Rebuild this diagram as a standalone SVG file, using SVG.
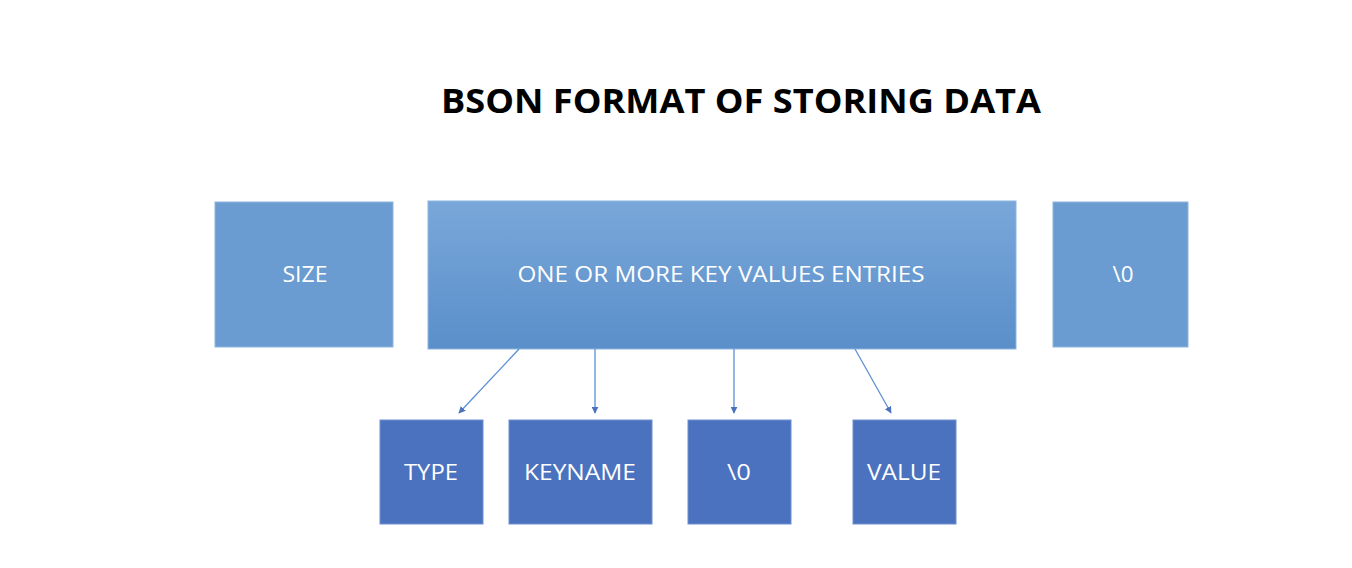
<svg xmlns="http://www.w3.org/2000/svg" width="1352" height="568" viewBox="0 0 1352 568">
  <style>
    .lbl { font-family: "Open Sans", "Liberation Sans", sans-serif; font-size: 22px; fill: #ffffff; text-anchor: middle; }
    .top { fill: #6a9bd1; stroke: #8db5e0; stroke-width: 1; }
    .sub { fill: #4a72be; stroke: #6f8fcf; stroke-width: 1; }
    .conn { stroke: #5b8fd3; stroke-width: 1.3; fill: none; marker-end: url(#ah); }
    .title { font-family: "Open Sans", "Liberation Sans", sans-serif; font-weight: bold; font-size: 34px; fill: #000; text-anchor: middle; }
  </style>
  <defs>
    <linearGradient id="g" x1="0" y1="0" x2="0" y2="1">
      <stop offset="0" stop-color="#79a7da"/>
      <stop offset="1" stop-color="#5a8fc9"/>
    </linearGradient>
    <marker id="ah" viewBox="0 0 10 10" refX="9" refY="5" markerWidth="7" markerHeight="7" markerUnits="userSpaceOnUse" orient="auto">
      <path d="M0,0 L10,5 L0,10 z" fill="#4a72be"/>
    </marker>
  </defs>
  <rect width="1352" height="568" fill="#ffffff"/>
  <text class="title" x="741" y="113" textLength="600" lengthAdjust="spacingAndGlyphs">BSON FORMAT OF STORING DATA</text>

  <g id="size">
    <rect class="top" x="215" y="202" width="178" height="145"/>
    <text class="lbl" x="305" y="282" textLength="45" lengthAdjust="spacingAndGlyphs">SIZE</text>
  </g>
  <g id="entries">
    <rect x="428" y="201" width="588" height="148" fill="url(#g)" stroke="#8db5e0" stroke-width="1"/>
    <text class="lbl" x="721" y="282" textLength="407" lengthAdjust="spacingAndGlyphs">ONE OR MORE KEY VALUES ENTRIES</text>
  </g>
  <g id="terminator">
    <rect class="top" x="1053" y="202" width="135" height="145"/>
    <text class="lbl" x="1123" y="282" textLength="21" lengthAdjust="spacingAndGlyphs">\0</text>
  </g>
  <g id="type">
    <rect class="sub" x="380" y="420" width="103" height="104"/>
    <text class="lbl" x="431" y="480" textLength="54" lengthAdjust="spacingAndGlyphs">TYPE</text>
  </g>
  <g id="keyname">
    <rect class="sub" x="509" y="420" width="143" height="104"/>
    <text class="lbl" x="580" y="480" textLength="112" lengthAdjust="spacingAndGlyphs">KEYNAME</text>
  </g>
  <g id="null">
    <rect class="sub" x="688" y="420" width="103" height="104"/>
    <text class="lbl" x="739" y="480" textLength="24" lengthAdjust="spacingAndGlyphs">\0</text>
  </g>
  <g id="value">
    <rect class="sub" x="853" y="420" width="103" height="104"/>
    <text class="lbl" x="904" y="480" textLength="74" lengthAdjust="spacingAndGlyphs">VALUE</text>
  </g>

  <g id="connectors">
    <line class="conn" x1="519" y1="349" x2="459" y2="413"/>
    <line class="conn" x1="595" y1="349" x2="595" y2="413"/>
    <line class="conn" x1="734" y1="349" x2="734" y2="413"/>
    <line class="conn" x1="855" y1="349" x2="891" y2="413"/>
  </g>
</svg>
